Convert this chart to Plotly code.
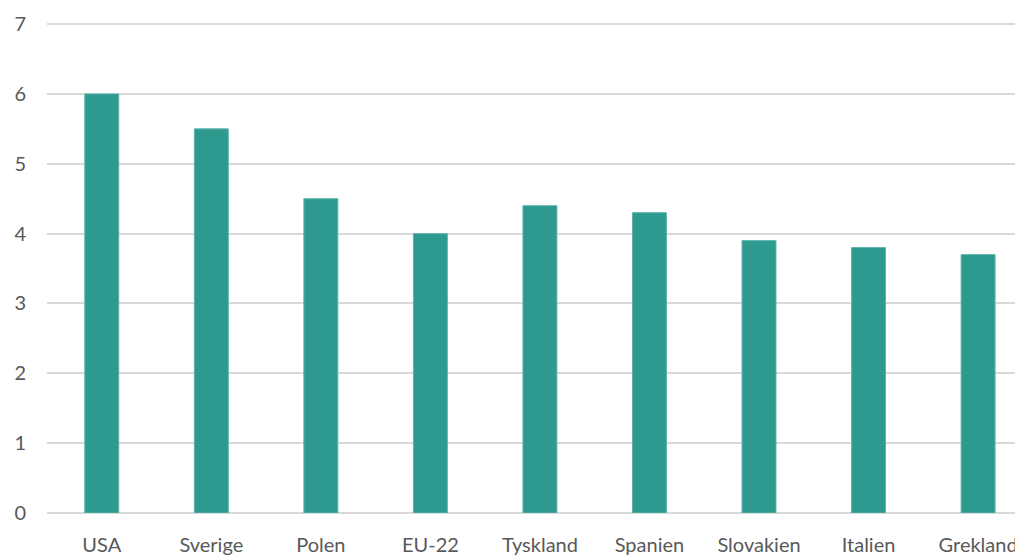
import plotly.graph_objects as go

categories = ["USA", "Sverige", "Polen", "EU-22", "Tyskland", "Spanien", "Slovakien", "Italien", "Grekland"]
values = [6.0, 5.5, 4.5, 4.0, 4.4, 4.3, 3.9, 3.8, 3.7]
y_ticks = [0, 1, 2, 3, 4, 5, 6, 7]

fig = go.Figure(go.Bar(
    x=categories, y=values,
    marker=dict(color="#2E9A8F", line=dict(color="#5DB5AC", width=1)),
    width=0.31,
))

# page body has an 8px default margin, so the figure is sized 8px smaller
fig.update_layout(
    width=1015, height=550,
    margin=dict(l=39, r=0, t=14, b=45),
    paper_bgcolor="white", plot_bgcolor="white",
    font=dict(family="Lato, Open Sans, sans-serif", size=20, color="#595959"),
    showlegend=False,
)
fig.update_xaxes(
    range=[-0.5, 8.41], showgrid=False, showline=False, zeroline=False, automargin=False,
    ticks="", ticklabelstandoff=18, tickfont=dict(size=20, color="#595959"),
)
fig.update_yaxes(
    range=[0, 7.03], tickvals=y_ticks, showgrid=True, gridcolor="#D9D9D9", gridwidth=1.5,
    zeroline=True, zerolinecolor="#D9D9D9", zerolinewidth=1.5, showline=False, automargin=False,
    ticks="", ticklabelstandoff=20, tickfont=dict(size=20, color="#595959"),
)

fig.write_html("out.html")
